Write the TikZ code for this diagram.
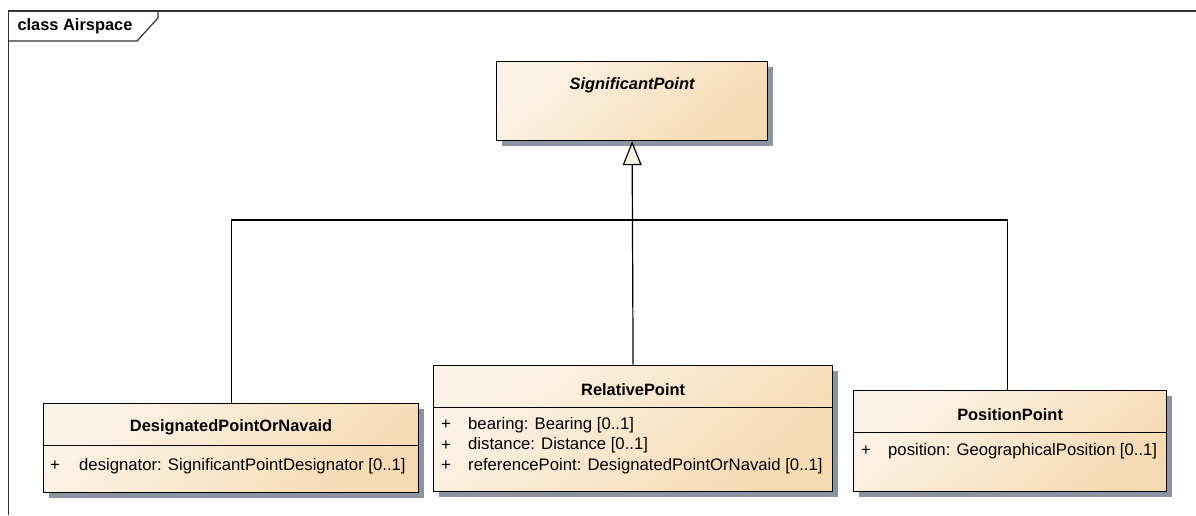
\documentclass[tikz,border=0pt]{standalone}
\usepackage{fontspec}
\setmainfont{Liberation Sans}
\usetikzlibrary{arrows.meta,shadows}
\definecolor{classlight}{HTML}{FCF3E7}
\definecolor{classdark}{HTML}{F6DAB2}
\definecolor{shadowgray}{HTML}{8C94A2}
\definecolor{tipfill}{HTML}{FBF1E4}
\begin{document}
\begin{tikzpicture}[x=1pt,y=-1pt,
    every node/.style={font=\fontsize{16.7}{19}\selectfont},
    classbox/.style={draw, line width=1.2pt, anchor=north west, inner sep=0pt,
      top color=classlight, bottom color=classdark, shading angle=40,
      drop shadow={shadow xshift=5pt, shadow yshift=-5pt, fill=shadowgray, opacity=1}},
    classname/.style={font=\fontsize{16.4}{19}\selectfont\bfseries},
    attr/.style={anchor=west, inner sep=0pt},
    genline/.style={line width=1.2pt}]
  \useasboundingbox (0,0) rectangle (1196,515);
  \fill[white] (0,0) rectangle (1196,515);

  % frame
  \draw[line width=1.2pt, black!80] (8.5,515) -- (8.5,11) -- (1196,11);
  \draw[line width=1.2pt, black!80] (8.5,41) -- (137,41) -- (158,18) -- (158,11);
  \node[font=\fontsize{16.4}{19}\selectfont\bfseries] (frametitle) at (75,26) {class Airspace};

  % classes
  \node[classbox, minimum width=271, minimum height=79] (sigpt) at (496,61) {};
  \node[classname, font=\fontsize{16.4}{19}\selectfont\bfseries\itshape] (sigpt-name)
    at ([yshift=-24.5pt]sigpt.north) {SignificantPoint};

  \node[classbox, minimum width=375, minimum height=89] (desig) at (43,403) {};
  \node[classname] (desig-name) at ([yshift=-24.5pt]desig.north) {DesignatedPointOrNavaid};
  \draw[line width=1.2pt] ([yshift=-42.5pt]desig.north west) -- ([yshift=-42.5pt]desig.north east);
  \node[attr] (desig-p1) at ([xshift=7pt,yshift=-63pt]desig.north west) {+};
  \node[attr] (desig-a1) at ([xshift=36pt,yshift=-63pt]desig.north west)
    {designator: SignificantPointDesignator [0..1]};

  \node[classbox, minimum width=399, minimum height=126] (relpt) at (433,365) {};
  \node[classname] (relpt-name) at ([yshift=-24.5pt]relpt.north) {RelativePoint};
  \draw[line width=1.2pt] ([yshift=-42.5pt]relpt.north west) -- ([yshift=-42.5pt]relpt.north east);
  \node[attr] (relpt-p1) at ([xshift=8pt,yshift=-60pt]relpt.north west) {+};
  \node[attr] (relpt-a1) at ([xshift=35pt,yshift=-60pt]relpt.north west) {bearing: Bearing [0..1]};
  \node[attr] (relpt-p2) at ([xshift=8pt,yshift=-80.5pt]relpt.north west) {+};
  \node[attr] (relpt-a2) at ([xshift=35pt,yshift=-80.5pt]relpt.north west) {distance: Distance [0..1]};
  \node[attr] (relpt-p3) at ([xshift=8pt,yshift=-101pt]relpt.north west) {+};
  \node[attr] (relpt-a3) at ([xshift=35pt,yshift=-101pt]relpt.north west)
    {referencePoint: DesignatedPointOrNavaid [0..1]};

  \node[classbox, minimum width=313, minimum height=101] (pospt) at (853,390) {};
  \node[classname] (pospt-name) at ([yshift=-24.5pt]pospt.north) {PositionPoint};
  \draw[line width=1.2pt] ([yshift=-42.5pt]pospt.north west) -- ([yshift=-42.5pt]pospt.north east);
  \node[attr] (pospt-p1) at ([xshift=8pt,yshift=-61pt]pospt.north west) {+};
  \node[attr] (pospt-a1) at ([xshift=35pt,yshift=-61pt]pospt.north west)
    {position: GeographicalPosition [0..1]};

  % generalization
  \coordinate (joint) at (632,220);
  \draw[genline] (desig.north) |- (joint);
  \draw[genline] ([xshift=-2.5pt]pospt.north) |- (joint);
  \draw[genline, -{Triangle[width=19pt, length=24pt, fill=tipfill]}] (relpt.north) -- (sigpt.south);
\end{tikzpicture}
\end{document}
